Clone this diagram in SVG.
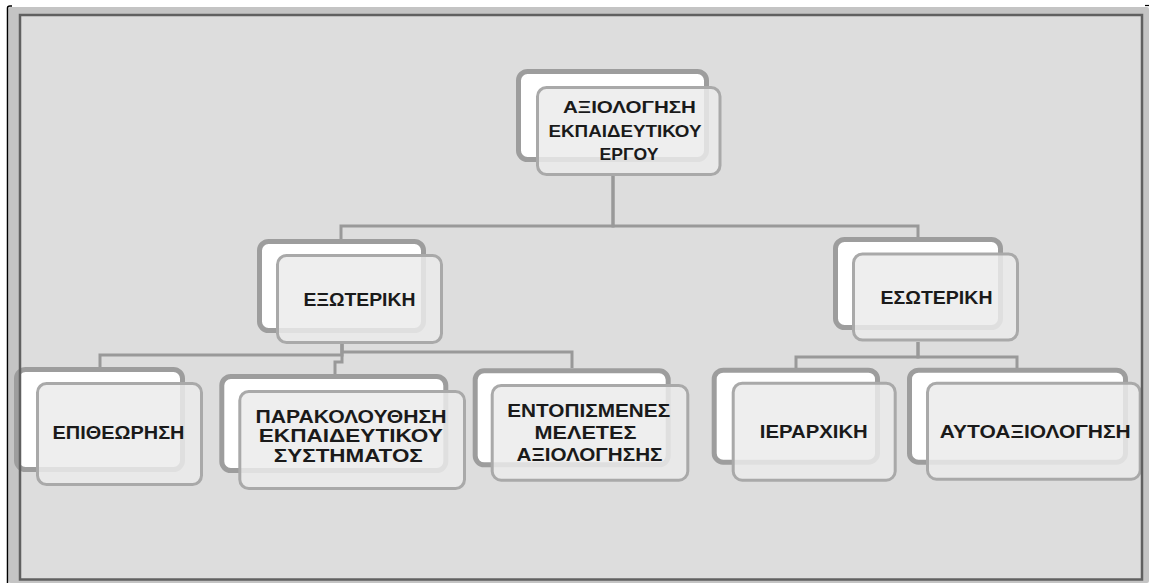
<svg xmlns="http://www.w3.org/2000/svg" width="1149" height="583" viewBox="0 0 1149 583">
<style>
.back{fill:#ffffff;stroke:#9d9d9d;stroke-width:5}
.front{fill:#ebebeb;fill-opacity:0.85;stroke:#a9a9a9;stroke-width:3}
.t{font-family:"Liberation Sans","Open Sans",sans-serif;font-weight:bold;fill:#1a1a1a;font-size:17.5px}
.ts{font-size:16.5px}
.conn{fill:none;stroke:#999999;stroke-width:3}
</style>
<rect x="0" y="0" width="1149" height="583" fill="#ffffff"/>
<rect x="8.5" y="7" width="1140.5" height="576" rx="2" fill="#c4c4c4"/>
<rect x="20" y="15" width="1122" height="564.5" fill="#dddddd"/>
<g id="connectors">
<path class="conn" d="M613 176 V226 H341 V239"/>
<path class="conn" d="M613 176 V226 H918 V237"/>
<path class="conn" d="M342 344 V355 H100 V367"/>
<path class="conn" d="M342 344 V362 H335 V374"/>
<path class="conn" d="M342 344 V352 H572 V368"/>
<path class="conn" d="M918 342 V357 H796 V368"/>
<path class="conn" d="M918 342 V357 H1017 V368"/>
</g>
<g id="node-root">
<rect class="back" x="518.5" y="71.5" width="188" height="88" rx="9"/>
<rect class="front" x="537.5" y="87.5" width="182.5" height="87" rx="9"/>
<text class="t ts" x="563" y="113" textLength="133" lengthAdjust="spacingAndGlyphs">ΑΞΙΟΛΟΓΗΣΗ</text>
<text class="t ts" x="548.5" y="137" textLength="153" lengthAdjust="spacingAndGlyphs">ΕΚΠΑΙΔΕΥΤΙΚΟΥ</text>
<text class="t ts" x="599.5" y="159.5" textLength="59" lengthAdjust="spacingAndGlyphs">ΕΡΓΟΥ</text>
</g>
<g id="node-exoteriki">
<rect class="back" x="259.5" y="241.5" width="164" height="89" rx="9"/>
<rect class="front" x="277.5" y="255.5" width="164" height="87" rx="9"/>
<text class="t" x="303.5" y="305.5" textLength="112" lengthAdjust="spacingAndGlyphs">ΕΞΩΤΕΡΙΚΗ</text>
</g>
<g id="node-esoteriki">
<rect class="back" x="835.5" y="239.5" width="165" height="88" rx="9"/>
<rect class="front" x="853.5" y="254" width="164" height="86" rx="9"/>
<text class="t" x="880.5" y="303.5" textLength="112" lengthAdjust="spacingAndGlyphs">ΕΣΩΤΕΡΙΚΗ</text>
</g>
<g id="node-epitheorisi">
<rect class="back" x="16.5" y="369.5" width="166" height="100" rx="9"/>
<rect class="front" x="37.5" y="383.5" width="164" height="101" rx="9"/>
<text class="t" x="52.5" y="438.5" textLength="132" lengthAdjust="spacingAndGlyphs">ΕΠΙΘΕΩΡΗΣΗ</text>
</g>
<g id="node-parakolouthisi">
<rect class="back" x="221.8" y="376.5" width="224" height="94" rx="9"/>
<rect class="front" x="239.8" y="391.5" width="224.7" height="97" rx="9"/>
<text class="t" x="255.5" y="422.5" textLength="191" lengthAdjust="spacingAndGlyphs">ΠΑΡΑΚΟΛΟΥΘΗΣΗ</text>
<text class="t" x="258.8" y="442" textLength="184" lengthAdjust="spacingAndGlyphs">ΕΚΠΑΙΔΕΥΤΙΚΟΥ</text>
<text class="t" x="273.8" y="461.5" textLength="149" lengthAdjust="spacingAndGlyphs">ΣΥΣΤΗΜΑΤΟΣ</text>
</g>
<g id="node-entopismenes">
<rect class="back" x="475.2" y="370.8" width="193" height="94" rx="9"/>
<rect class="front" x="492.2" y="385.5" width="195.6" height="94.7" rx="9"/>
<text class="t" x="507.2" y="416.5" textLength="163" lengthAdjust="spacingAndGlyphs">ΕΝΤΟΠΙΣΜΕΝΕΣ</text>
<text class="t" x="534.5" y="439" textLength="102" lengthAdjust="spacingAndGlyphs">ΜΕΛΕΤΕΣ</text>
<text class="t" x="516.5" y="461" textLength="146" lengthAdjust="spacingAndGlyphs">ΑΞΙΟΛΟΓΗΣΗΣ</text>
</g>
<g id="node-ierarxiki">
<rect class="back" x="714.2" y="370.2" width="163.3" height="92" rx="9"/>
<rect class="front" x="733.2" y="383.2" width="162" height="97" rx="9"/>
<text class="t" x="759.8" y="438" textLength="108" lengthAdjust="spacingAndGlyphs">ΙΕΡΑΡΧΙΚΗ</text>
</g>
<g id="node-autoaxiologisi">
<rect class="back" x="909.5" y="370.2" width="216" height="92" rx="9"/>
<rect class="front" x="927.5" y="383.2" width="212.7" height="96" rx="9"/>
<text class="t" x="939.8" y="438" textLength="191" lengthAdjust="spacingAndGlyphs">ΑΥΤΟΑΞΙΟΛΟΓΗΣΗ</text>
</g>
<rect x="20" y="15" width="1122" height="564.5" fill="none" stroke="#606060" stroke-width="2.5"/>
<path d="M7.5 583 V8 Q7.5 6 10 6 H12" fill="none" stroke="#000000" stroke-width="1.5"/>
<path d="M1145 5.5 H1149" fill="none" stroke="#000000" stroke-width="1.2"/>
</svg>
